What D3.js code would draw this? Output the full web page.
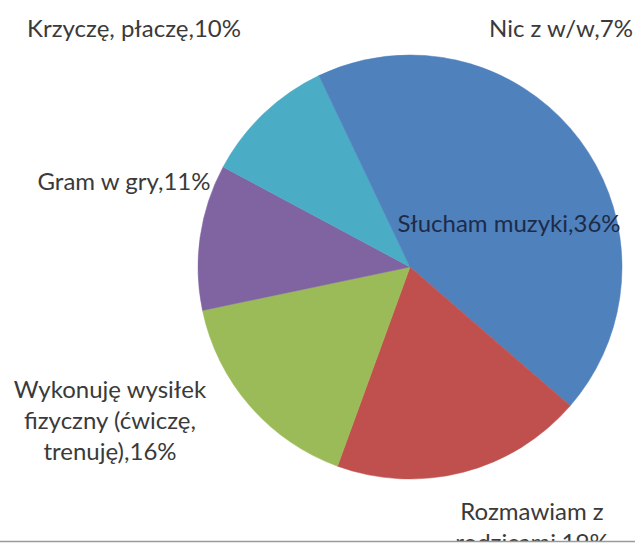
<!DOCTYPE html>
<html>
<head>
<meta charset="utf-8">
<script src="https://cdn.jsdelivr.net/npm/d3@7"></script>
<style>
	html, body { margin: 0; padding: 0; background: #fff; }
	svg { display: block; }
	.lbl { font-family: Lato, "Open Sans", sans-serif; font-size: 24px; fill: #3a3a3a; }
</style>
</head>
<body>
<div id="chart"></div>
<script>
// data (clockwise from 12 o'clock)
const categories = ["Słucham muzyki", "Rozmawiam z rodzicami", "Wykonuję wysiłek fizyczny (ćwiczę, trenuję)",
	"Gram w gry", "Krzyczę, płaczę", "Nic z w/w"];
const values = [36, 19, 16, 11, 10, 7];
// label text as wrapped in the chart
const labelLines = [
	["Słucham muzyki,36%"],
	["Rozmawiam z", "rodzicami,19%"],
	["Wykonuję wysiłek", "fizyczny (ćwiczę,", "trenuję),16%"],
	["Gram w gry,11%"],
	["Krzyczę, płaczę,10%"],
	["Nic z w/w,7%"]
];
const colors = ["#4f81bd", "#c0504d", "#9bbb59", "#8064a2", "#4bacc6", "#4f81bd"];

const width = 635, height = 545;
const center = { x: 410, y: 267 };
const radius = 212;
const lineHeight = 31;

// label anchors (centre x, first baseline y) - manual like the excel layout
const labelPos = [
	{ x: 509, y: 232, fill: "#1d2b49" },
	{ x: 532, y: 520 },
	{ x: 110, y: 398 },
	{ x: 124, y: 190 },
	{ x: 134, y: 37 },
	{ x: 561, y: 37 }
];

const svg = d3.select("#chart").append("svg")
	.attr("width", width)
	.attr("height", height);

svg.append("clipPath").attr("id", "clip")
	.append("rect").attr("width", width).attr("height", 541);

const root = svg.append("g").attr("clip-path", "url(#clip)");

const pie = d3.pie().sort(null).value(d => d)(values);
const arc = d3.arc().innerRadius(0).outerRadius(radius);

const g = root.append("g")
	.attr("transform", `translate(${center.x},${center.y})`);

g.selectAll("path")
	.data(pie)
	.join("path")
	.attr("d", arc)
	.attr("fill", (d, i) => colors[i])
	.attr("stroke", (d, i) => colors[i])
	.attr("stroke-width", 0.5);

root.selectAll("text.lbl")
	.data(labelLines)
	.join("text")
	.attr("class", "lbl")
	.attr("text-anchor", "middle")
	.attr("x", (d, i) => labelPos[i].x)
	.attr("y", (d, i) => labelPos[i].y)
	.style("fill", (d, i) => labelPos[i].fill || null)
	.each(function (lines, i) {
		d3.select(this).selectAll("tspan")
			.data(lines)
			.join("tspan")
			.attr("x", labelPos[i].x)
			.attr("dy", (l, j) => j === 0 ? 0 : lineHeight)
			.text(l => l);
	});

// bottom edge of the cropped picture
svg.append("line")
	.attr("x1", 0).attr("x2", width)
	.attr("y1", 541.5).attr("y2", 541.5)
	.attr("stroke", "#9a9a9a")
	.attr("stroke-width", 1.5);
</script>
</body>
</html>
